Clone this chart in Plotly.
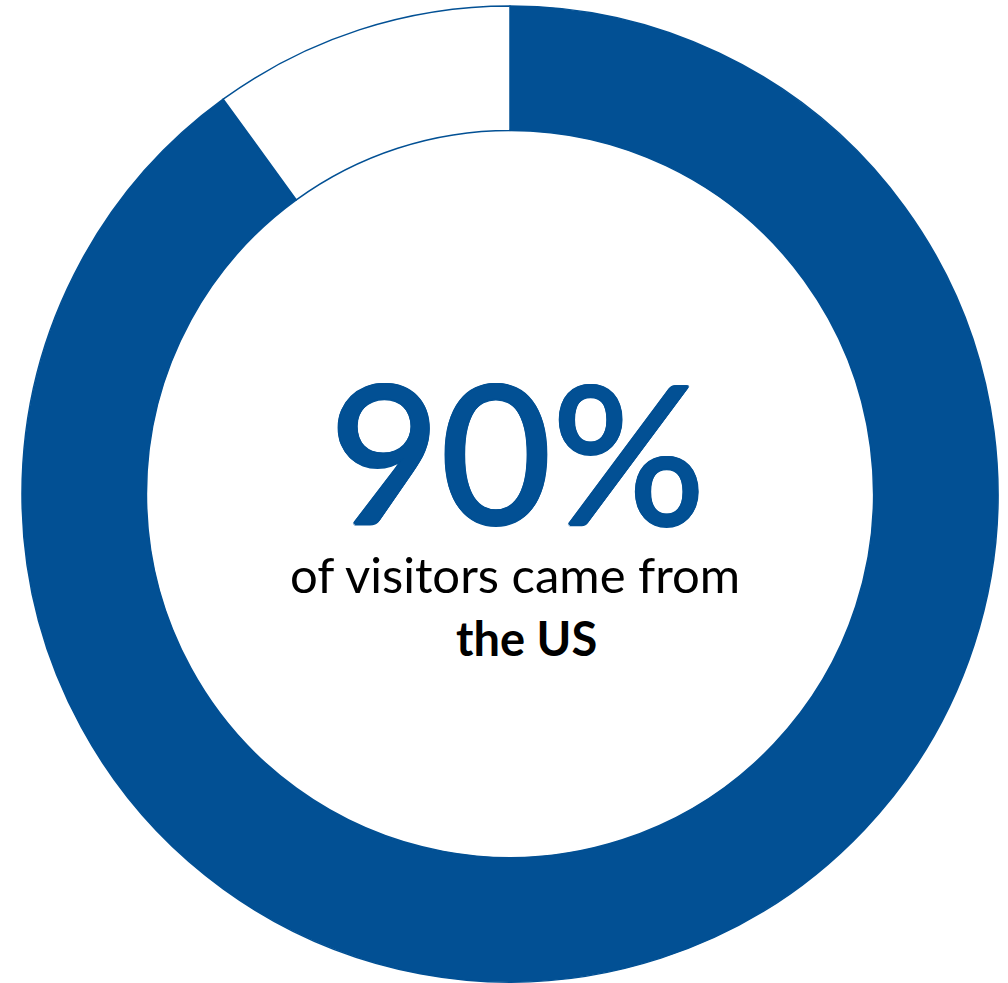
import plotly.graph_objects as go

# Share of visitors by origin
labels = ["US", "Other"]
values = [90, 10]
headline = "90%"
caption_line1 = "of visitors came from"
caption_line2 = "the US"

BLUE = "#025094"
W, H = 1008, 983

fig = go.Figure(
    go.Pie(
        labels=labels,
        values=values,
        hole=0.745,
        sort=False,
        direction="clockwise",
        rotation=0,
        marker=dict(colors=[BLUE, "#ffffff"], line=dict(color=BLUE, width=1.5)),
        textinfo="none",
        hoverinfo="label+percent",
        domain=dict(x=[22 / W, 998 / W], y=[1 / H, 977 / H]),
    )
)

# slightly heavier strokes for the big figure
thick = ", ".join(
    f"{dx}px {dy}px 0 {BLUE}" for dx, dy in [(1.5, 0), (-1.5, 0), (0, 1.5), (0, -1.5), (1, 1), (-1, -1), (1, -1), (-1, 1)]
)

fig.add_annotation(
    x=517 / W, y=1 - 449 / H, xref="paper", yref="paper",
    text=headline, showarrow=False,
    font=dict(family="Lato", size=192, color=BLUE, shadow=thick),
    xanchor="center", yanchor="middle",
)
fig.add_annotation(
    x=515 / W, y=1 - 574 / H, xref="paper", yref="paper",
    text=caption_line1, showarrow=False,
    font=dict(family="Lato", size=49, color="#000000", shadow="none"),
    xanchor="center", yanchor="middle",
)
fig.add_annotation(
    x=526 / W, y=1 - 638 / H, xref="paper", yref="paper",
    text="<b>" + caption_line2 + "</b>", showarrow=False,
    font=dict(family="Lato", size=47, color="#000000", shadow="none"),
    xanchor="center", yanchor="middle",
)

fig.update_layout(
    width=W, height=H,
    margin=dict(l=0, r=0, t=0, b=0),
    showlegend=False,
    paper_bgcolor="#ffffff",
    plot_bgcolor="#ffffff",
)

fig.write_html("out.html")
